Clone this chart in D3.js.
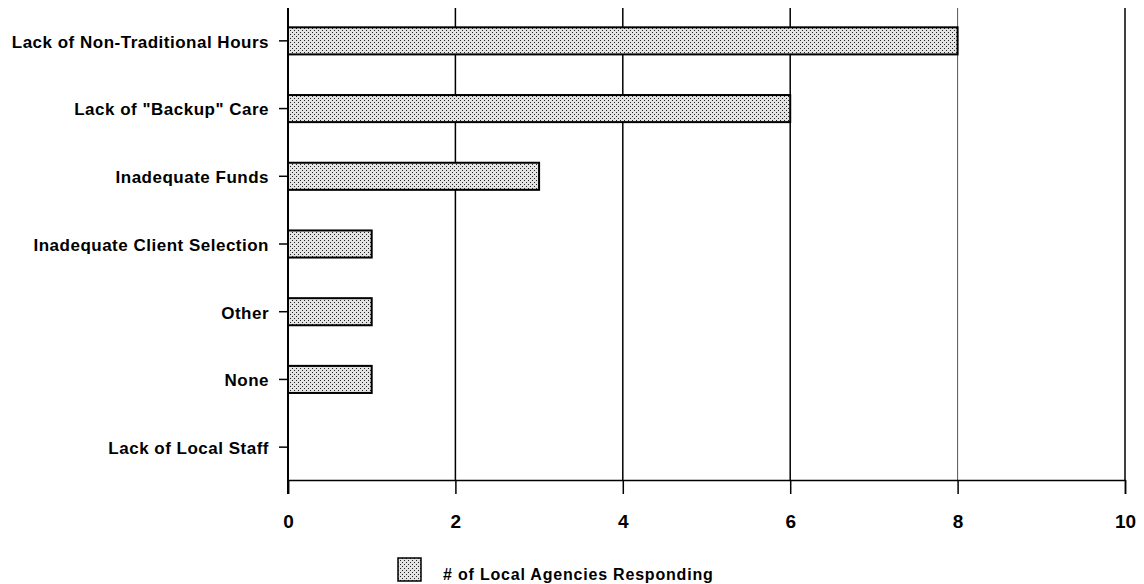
<!DOCTYPE html>
<html><head><meta charset="utf-8">
<script src="https://cdn.jsdelivr.net/npm/d3@7"></script>
<style>body{margin:0;background:#fff}</style>
</head><body>
<svg id="c" width="1144" height="584"></svg>
<script>
const categories = ["Lack of Non-Traditional Hours","Lack of \"Backup\" Care","Inadequate Funds","Inadequate Client Selection","Other","None","Lack of Local Staff"];
const values = [8,6,3,1,1,1,0];
const xTicks = [0,2,4,6,8,10];
const seriesName = "# of Local Agencies Responding";

const svg = d3.select("#c");
const defs = svg.append("defs");
const pat = defs.append("pattern").attr("id","dots").attr("patternUnits","userSpaceOnUse").attr("width",4).attr("height",4);
pat.append("rect").attr("width",4).attr("height",4).attr("fill","#e4e4e4");
pat.append("rect").attr("x",0).attr("y",0).attr("width",1).attr("height",1).attr("fill","#222");
pat.append("rect").attr("x",2).attr("y",2).attr("width",1).attr("height",1).attr("fill","#222");

const x = d3.scaleLinear().domain([0,10]).range([288,1125]);
const y = d3.scaleBand().domain(categories).range([7,481]).paddingInner(0.6).paddingOuter(0.3);
const font = "'Liberation Sans', Arial, sans-serif";

// grid lines
svg.append("g").selectAll("line").data(xTicks.filter(d=>d>0)).join("line")
  .attr("x1",d=>x(d)).attr("x2",d=>x(d)).attr("y1",8).attr("y2",480)
  .attr("stroke",d=>d===8?"#555":"#000").attr("stroke-width",d=>d===8?1:1.5);

// bars
svg.append("g").selectAll("rect").data(categories.map((c,i)=>({c,v:values[i]})).filter(d=>d.v>0)).join("rect")
  .attr("x",x(0)).attr("y",d=>y(d.c)).attr("width",d=>x(d.v)-x(0)).attr("height",y.bandwidth())
  .attr("fill","url(#dots)").attr("stroke","#000").attr("stroke-width",2);

// x axis
const xa = svg.append("g").attr("transform","translate(0,480)")
  .call(d3.axisBottom(x).tickValues(xTicks).tickSize(14).tickPadding(21).tickFormat(d3.format("d")));
xa.select(".domain").attr("stroke","#000").attr("stroke-width",1.5);
xa.selectAll(".tick line").attr("stroke","#000").attr("stroke-width",1.5);
xa.selectAll("text").attr("font-family",font).attr("font-weight","bold").attr("font-size",19).attr("fill","#000");

// y axis
const ya = svg.append("g").attr("transform","translate(288,0)")
  .call(d3.axisLeft(y).tickSize(9).tickPadding(10).tickSizeOuter(0));
ya.select(".domain").attr("stroke","#000").attr("stroke-width",2).attr("d","M0,8V494");
ya.selectAll(".tick line").attr("stroke","#000").attr("stroke-width",1.5);
ya.selectAll("text").attr("font-family",font).attr("font-weight","bold").attr("font-size",17)
  .attr("letter-spacing",0.5).attr("dy","0.4em").attr("fill","#000");

// legend
const lg = svg.append("g");
lg.append("rect").attr("x",398).attr("y",558).attr("width",23).attr("height",23)
  .attr("fill","url(#dots)").attr("stroke","#000").attr("stroke-width",1.5);
lg.append("text").attr("x",443).attr("y",580).attr("font-family",font).attr("font-weight","bold")
  .attr("font-size",16).attr("letter-spacing",0.8).text(seriesName);
</script>
</body></html>
